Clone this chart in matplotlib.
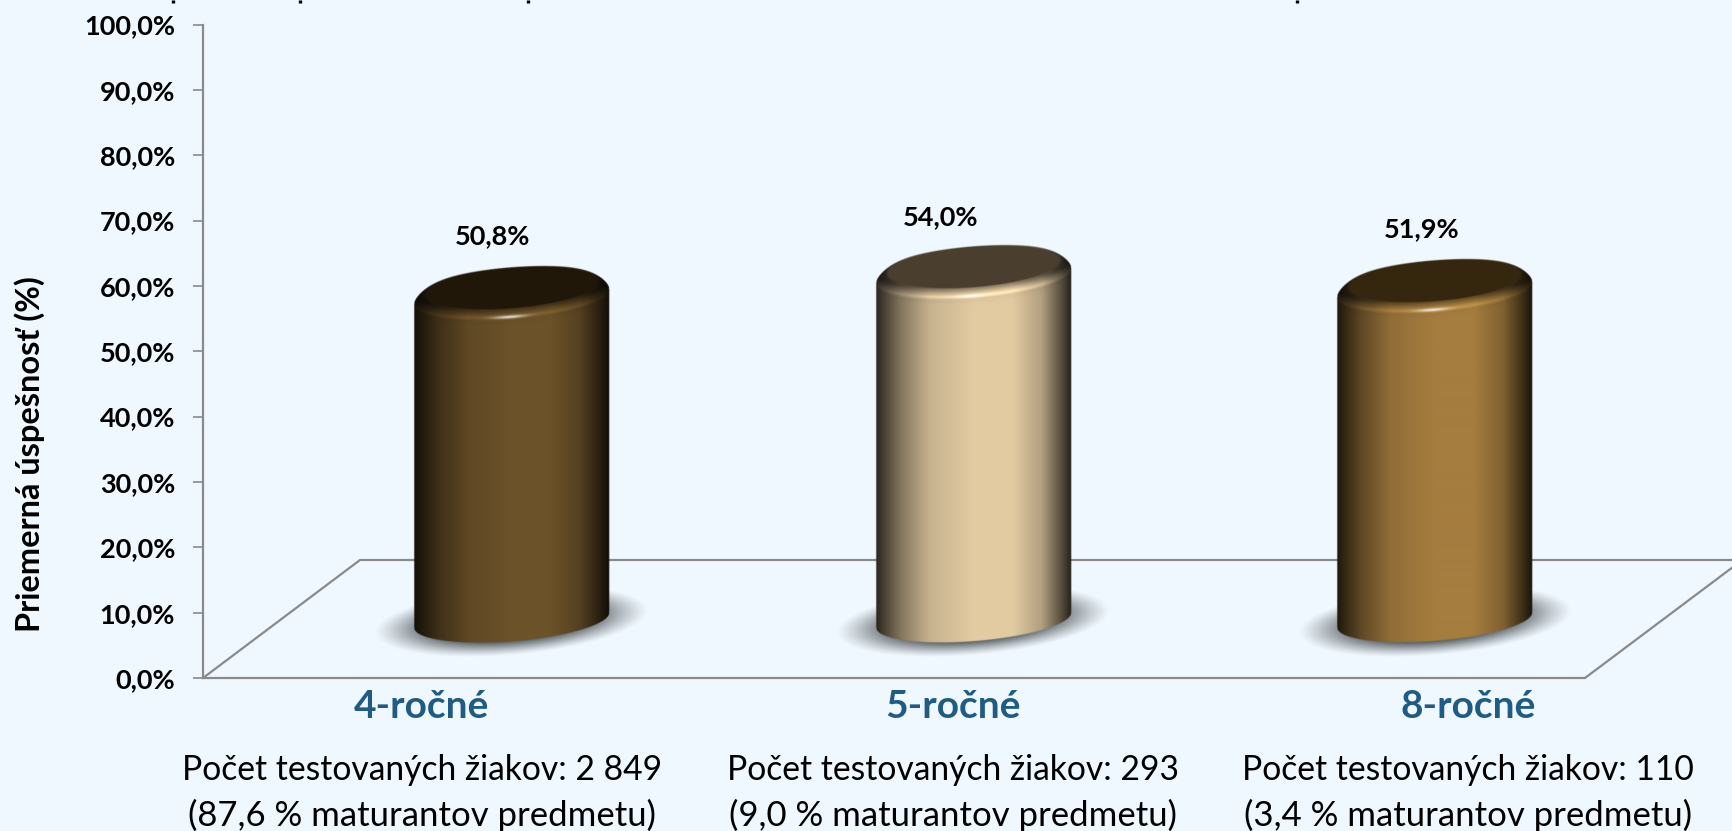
import matplotlib
matplotlib.use('Agg')
import matplotlib.pyplot as plt
from matplotlib.lines import Line2D
import numpy as np

plt.rcParams['font.family'] = ['Lato', 'DejaVu Sans']

categories = ['4-ročné', '5-ročné', '8-ročné']
values = [50.8, 54.0, 51.9]
value_labels = ['50,8%', '54,0%', '51,9%']
student_counts = ['Počet testovaných žiakov: 2 849', 'Počet testovaných žiakov: 293', 'Počet testovaných žiakov: 110']
student_shares = ['(87,6 % maturantov predmetu)', '(9,0 % maturantov predmetu)', '(3,4 % maturantov predmetu)']
y_ticks = [0, 10, 20, 30, 40, 50, 60, 70, 80, 90, 100]
y_tick_labels = ['0,0%', '10,0%', '20,0%', '30,0%', '40,0%', '50,0%', '60,0%', '70,0%', '80,0%', '90,0%', '100,0%']

W, H = 1733, 831
BG = '#F0F8FF'
GREY = '#8A8A8A'
mid_colors = ['#6C5229', '#E2CBA2', '#A57D3F']
face_colors = ['#21170A', '#4A3F30', '#35270F']

# pixel layout of the plot
AX_L, AX_B, AX_T = 203, 678, 24.5
PX_X = 461.7     # px per category
PX_Y = (AX_B - AX_T) / 100
X0 = 511.5
BASE = 8.8       # cylinders stand on the floor, not on the axis
A, B, TILT = 97.5, 21.0, 7.5


def hex_rgb(c):
    return np.array(matplotlib.colors.to_rgb(c))


def x_data(px):
    return (px - X0) / PX_X


def y_data(py):
    return (AX_B - py) / PX_Y


def draw_shadow(ax, i):
    cx = X0 + i * PX_X
    cy = AX_B - BASE * PX_Y + 1
    xs = np.arange(cx - 150, cx + 150, 0.5)
    ys = np.arange(cy - 45, cy + 45, 0.5)
    xx, yy = np.meshgrid(xs, ys)
    dx = (xx - cx) / 137
    dy = (yy - cy + 11 * dx) / 34
    r = np.sqrt(dx ** 2 + dy ** 2)
    img = np.zeros(xx.shape + (4,))
    img[..., :3] = hex_rgb('#505658')
    img[..., 3] = np.clip((1 - r) / 0.42, 0, 1) ** 1.2 * 0.95
    ax.imshow(img, extent=(x_data(xs[0]), x_data(xs[-1]), y_data(ys[-1]), y_data(ys[0])),
              origin='upper', aspect='auto', zorder=2, interpolation='bilinear')


def draw_cylinder(ax, i, value):
    cx = X0 + i * PX_X
    yb = AX_B - BASE * PX_Y
    yt = AX_B - (BASE + value) * PX_Y
    xs = np.arange(cx - A - 2, cx + A + 2, 0.5)
    ys = np.arange(yt - 30, yb + 32, 0.5)
    xx, yy = np.meshgrid(xs, ys)
    s = np.clip((xx - cx) / A, -1, 1)
    e = B * np.sqrt(1 - s ** 2)

    # body shading across the width
    prof = np.interp(s, [-1, -0.93, -0.75, -0.45, 0.0, 0.4, 0.7, 0.9, 1],
                     [0.18, 0.3, 0.58, 0.88, 1.0, 1.0, 0.78, 0.38, 0.16])
    mid = hex_rgb(mid_colors[i])
    rgb = mid[None, None, :] * prof[..., None]

    # rounded rim under the top face
    yp = yy - yt + TILT * s
    v = yp - (e + 7.5)
    rim = np.where(v < 0, np.interp(v, [-9, 0], [0.55, 1.18]), np.interp(v, [0, 3, 9], [1.18, 0.97, 1.0]))
    rgb = rgb * rim[..., None]
    spec = np.exp(-(((xx - cx + 2) / 16) ** 2) - (v / 1.5) ** 2) * 0.8
    rgb = rgb + (1 - rgb) * spec[..., None]

    # top face
    fs = (xx - cx) / (A * 0.89)
    face = fs ** 2 + ((yp + 0.5) / 20.5) ** 2
    k = np.clip((1.03 - face) / 0.07, 0, 1)[..., None]
    rgb = rgb * (1 - k) + hex_rgb(face_colors[i])[None, None, :] * k

    top_edge = yt - TILT * s - e + 8 * np.abs(s) ** 6
    bot_edge = yb - TILT * s + e
    alpha = (np.clip(yy - top_edge + 0.5, 0, 1) * np.clip(bot_edge - yy + 0.5, 0, 1)
             * np.clip((A - np.abs(xx - cx)) + 0.5, 0, 1))
    img = np.dstack([np.clip(rgb, 0, 1), alpha])
    ax.imshow(img, extent=(x_data(xs[0]), x_data(xs[-1]), y_data(ys[-1]), y_data(ys[0])),
              origin='upper', aspect='auto', zorder=3, interpolation='bilinear')


def main():
    fig = plt.figure(figsize=(W / 100, H / 100), dpi=100, facecolor=BG)
    ax = fig.add_axes([AX_L / W, 1 - AX_B / H, 1 - AX_L / W, (AX_B - AX_T) / H])
    ax.set_facecolor(BG)

    # floor of the 3D chart
    ax.plot([x_data(AX_L), x_data(360), x_data(W)], [0, y_data(560), y_data(560)],
            color=GREY, lw=1.6, zorder=1, solid_capstyle='butt')
    ax.plot([x_data(1585), x_data(W)], [0, y_data(567)], color=GREY, lw=1.6, zorder=1)

    for i, val in enumerate(values):
        draw_shadow(ax, i)
        draw_cylinder(ax, i, val)

    label_dx = [-18.5, -33, -13]
    label_dy = [52, 50.5, 52]
    cat_dx = [-89.5, -20, 33]
    for i, val in enumerate(values):
        ax.text(i + label_dx[i] / PX_X, BASE + val + label_dy[i] / PX_Y, value_labels[i],
                ha='center', va='center', fontsize=19.5, fontweight='bold', color='black', zorder=5)
        x_txt = i + cat_dx[i] / PX_X
        ax.text(x_txt, y_data(706), categories[i], ha='center', va='center',
                fontsize=28, fontweight='bold', color='#1F5C85')
        ax.text(x_txt, y_data(770), student_counts[i], ha='center', va='center', fontsize=24.2, color='black')
        ax.text(x_txt, y_data(815), student_shares[i], ha='center', va='center', fontsize=25, color='black')

    ax.set_xlim(x_data(AX_L), x_data(W))
    ax.set_ylim(0, 100)
    ax.set_xticks([])
    ax.set_yticks(y_ticks)
    ax.set_yticklabels(y_tick_labels, fontsize=19.5, fontweight='bold')
    ax.tick_params(axis='y', length=7.2, width=1.2, color=GREY, pad=13)
    for side in ['top', 'right']:
        ax.spines[side].set_visible(False)
    ax.spines['left'].set_color(GREY)
    ax.spines['left'].set_linewidth(1.6)
    ax.spines['bottom'].set_color(GREY)
    ax.spines['bottom'].set_linewidth(1.6)
    ax.spines['bottom'].set_bounds(x_data(AX_L), x_data(1585))

    fig.text(30 / W, 1 - 454 / H, 'Priemerná úspešnosť (%)', rotation=90, ha='center', va='center',
             fontsize=23.4, fontweight='bold', color='black')

    # leftover ink of a title that is cut off by the top edge
    for px in [173, 300, 528, 1297]:
        fig.add_artist(Line2D([px / W, px / W], [1, 1 - 3 / H], color='black', lw=2.4,
                              solid_capstyle='butt'))

    fig.savefig('out.png', dpi=100, facecolor=BG)


if __name__ == '__main__':
    main()
